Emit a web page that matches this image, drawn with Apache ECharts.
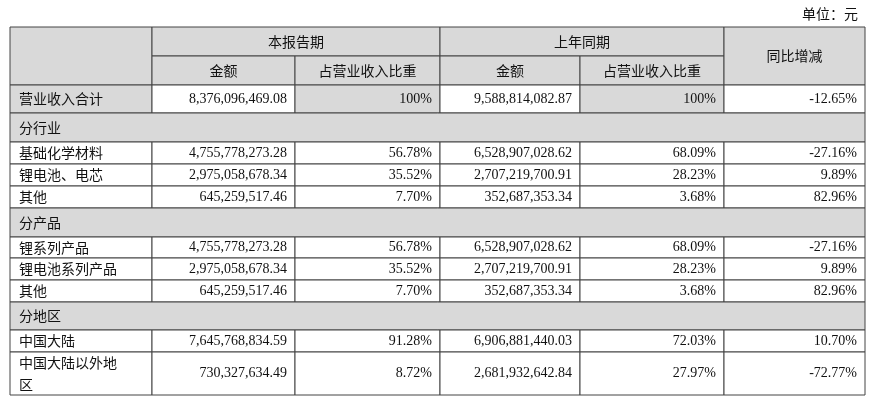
<!DOCTYPE html>
<html><head><meta charset="utf-8">
<script src="https://cdn.jsdelivr.net/npm/echarts@6/dist/echarts.min.js"></script>
<style>html,body{margin:0;background:#fff}#main{width:876px;height:408px}</style>
</head><body><div id="main"></div>
<script>
// table data
var unitLabel = '单位：元';
var periodHeaders = ['本报告期', '上年同期'];
var subHeaders = ['金额', '占营业收入比重', '金额', '占营业收入比重'];
var changeHeader = '同比增减';
var rowLabels = ['营业收入合计', '分行业', '基础化学材料', '锂电池、电芯', '其他', '分产品',
  '锂系列产品', '锂电池系列产品', '其他', '分地区', '中国大陆', '中国大陆以外地\n区'];
var curAmount = ['8,376,096,469.08', null, '4,755,778,273.28', '2,975,058,678.34', '645,259,517.46', null,
  '4,755,778,273.28', '2,975,058,678.34', '645,259,517.46', null, '7,645,768,834.59', '730,327,634.49'];
var curShare = ['100%', null, '56.78%', '35.52%', '7.70%', null, '56.78%', '35.52%', '7.70%', null, '91.28%', '8.72%'];
var prevAmount = ['9,588,814,082.87', null, '6,528,907,028.62', '2,707,219,700.91', '352,687,353.34', null,
  '6,528,907,028.62', '2,707,219,700.91', '352,687,353.34', null, '6,906,881,440.03', '2,681,932,642.84'];
var prevShare = ['100%', null, '68.09%', '28.23%', '3.68%', null, '68.09%', '28.23%', '3.68%', null, '72.03%', '27.97%'];
var yoyChange = ['-12.65%', null, '-27.16%', '9.89%', '82.96%', null, '-27.16%', '9.89%', '82.96%', null, '10.70%', '-72.77%'];

var colX = [10, 152, 295, 440, 580, 724, 865];
var headY = [27, 56, 85];
var rowY = [85, 113, 142, 164, 186, 208, 237, 258, 280, 302, 330, 352, 395];
var GREY = '#d9d9d9', LINE = '#444';
var CJK = '"Noto Sans CJK SC", sans-serif';
var NUM = '"Liberation Serif", "Noto Sans CJK SC", serif';

var els = [];
function cell(x0, x1, y0, y1, fill) {
  els.push({type: 'rect', shape: {x: x0, y: y0, width: x1 - x0, height: y1 - y0},
    style: {fill: fill, stroke: LINE, lineWidth: 1}});
}
function txt(s, x, y, align, font) {
  els.push({type: 'text', x: x, y: y, style: {text: s, fill: '#111', font: '14px ' + (font || CJK),
    align: align, verticalAlign: 'middle', lineHeight: 22}});
}

els.push({type: 'text', x: 858, y: 14, style: {text: unitLabel, fill: '#111', font: '14px ' + CJK, align: 'right', verticalAlign: 'middle'}});

// header
cell(colX[0], colX[1], headY[0], headY[2], GREY);
for (var p = 0; p < 2; p++) {
  cell(colX[1 + 2 * p], colX[3 + 2 * p], headY[0], headY[1], GREY);
  txt(periodHeaders[p], (colX[1 + 2 * p] + colX[3 + 2 * p]) / 2, (headY[0] + headY[1]) / 2, 'center');
}
for (var s = 0; s < 4; s++) {
  cell(colX[1 + s], colX[2 + s], headY[1], headY[2], GREY);
  txt(subHeaders[s], (colX[1 + s] + colX[2 + s]) / 2, (headY[1] + headY[2]) / 2, 'center');
}
cell(colX[5], colX[6], headY[0], headY[2], GREY);
txt(changeHeader, (colX[5] + colX[6]) / 2, (headY[0] + headY[2]) / 2, 'center');

// body
var cols = [curAmount, curShare, prevAmount, prevShare, yoyChange];
for (var r = 0; r < rowLabels.length; r++) {
  var y0 = rowY[r], y1 = rowY[r + 1], ym = (y0 + y1) / 2;
  if (curAmount[r] === null) {
    cell(colX[0], colX[6], y0, y1, GREY);
    txt(rowLabels[r], colX[0] + 9, ym, 'left');
    continue;
  }
  cell(colX[0], colX[1], y0, y1, r === 0 ? GREY : '#fff');
  txt(rowLabels[r], colX[0] + 9, ym, 'left');
  for (var c = 0; c < 5; c++) {
    cell(colX[1 + c], colX[2 + c], y0, y1, (r === 0 && (c === 1 || c === 3)) ? GREY : '#fff');
    txt(cols[c][r], colX[2 + c] - 8, ym, 'right', NUM);
  }
}

var chart = echarts.init(document.getElementById('main'));
chart.setOption({animation: false, graphic: {elements: els}});
</script>
</body></html>
